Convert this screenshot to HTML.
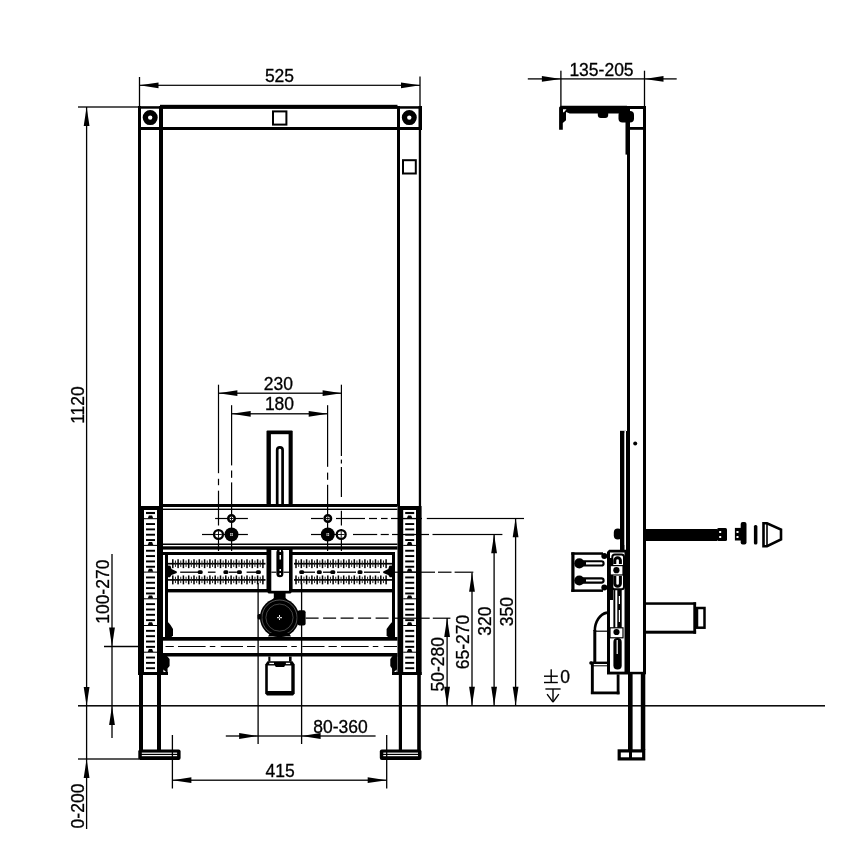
<!DOCTYPE html>
<html><head><meta charset="utf-8"><style>
html,body{margin:0;padding:0;background:#fff;}
svg{display:block;filter:grayscale(1);}
text{font-family:"Liberation Sans",sans-serif;fill:#000;stroke:#000;stroke-width:0.3px;}
</style></head><body>
<svg width="868" height="868" viewBox="0 0 868 868">
<rect x="0" y="0" width="868" height="868" fill="#fff"/>
<rect x="138.85" y="77.00" width="1.30" height="29.00" fill="#000" />
<rect x="419.35" y="76.50" width="1.30" height="29.50" fill="#000" />
<rect x="139.50" y="84.70" width="280.50" height="1.20" fill="#000" />
<polygon points="139.50,85.30 158.50,82.40 158.50,88.20" fill="#000"/>
<polygon points="420.00,85.30 401.00,82.40 401.00,88.20" fill="#000"/>
<text x="279.5" y="82.2" font-size="17.5" text-anchor="middle">525</text>
<rect x="78.00" y="106.35" width="61.00" height="1.30" fill="#000" />
<rect x="85.95" y="107.00" width="1.30" height="722.00" fill="#000" />
<polygon points="86.60,107.00 83.70,126.00 89.50,126.00" fill="#000"/>
<polygon points="86.60,706.00 83.70,687.00 89.50,687.00" fill="#000"/>
<text x="84" y="405" font-size="17.5" text-anchor="middle" transform="rotate(-90 84 405)">1120</text>
<rect x="78.00" y="758.35" width="61.00" height="1.30" fill="#000" />
<polygon points="86.60,759.00 83.70,778.00 89.50,778.00" fill="#000"/>
<text x="84.2" y="806" font-size="17.5" text-anchor="middle" transform="rotate(-90 84.2 806)">0-200</text>
<rect x="78.00" y="705.05" width="747.00" height="1.50" fill="#000" />
<rect x="111.35" y="554.00" width="1.30" height="184.00" fill="#000" />
<polygon points="112.00,646.50 109.10,627.50 114.90,627.50" fill="#000"/>
<polygon points="112.00,706.00 109.10,725.00 114.90,725.00" fill="#000"/>
<rect x="104.00" y="645.85" width="35.00" height="1.30" fill="#000" />
<text x="109" y="591.7" font-size="17.5" text-anchor="middle" transform="rotate(-90 109 591.7)">100-270</text>
<rect x="138.00" y="106.20" width="284.00" height="2.50" fill="#000" />
<rect x="160.00" y="104.80" width="237.50" height="3.90" fill="#000" />
<rect x="138.00" y="127.00" width="284.00" height="3.00" fill="#000" />
<rect x="138.00" y="106.00" width="3.00" height="400.00" fill="#000" />
<rect x="159.00" y="106.00" width="4.00" height="400.00" fill="#000" />
<rect x="397.00" y="106.00" width="3.00" height="400.00" fill="#000" />
<rect x="418.50" y="106.00" width="3.50" height="24.00" fill="#000" />
<rect x="418.80" y="130.00" width="2.30" height="376.00" fill="#000" />
<circle cx="150.2" cy="117.6" r="4.85" fill="none" stroke="#000" stroke-width="5.3"/>
<circle cx="409.3" cy="117.6" r="4.85" fill="none" stroke="#000" stroke-width="5.3"/>
<rect x="273" y="111.4" width="13.4" height="13.2" fill="none" stroke="#000" stroke-width="2"/>
<rect x="403" y="160.2" width="12.8" height="13.3" fill="none" stroke="#000" stroke-width="2"/>
<rect x="138.00" y="506.00" width="25.00" height="169.00" fill="#000" />
<rect x="144.00" y="510.00" width="13.00" height="162.00" fill="#fff" />
<rect x="144.00" y="518.20" width="13.00" height="1.00" fill="#000" />
<polygon points="148.90,515.40 152.10,515.40 153.30,518.40 147.70,518.40" fill="#000"/>
<rect x="146.00" y="523.09" width="9.00" height="1.90" fill="#000" />
<rect x="146.00" y="528.43" width="9.00" height="1.90" fill="#000" />
<rect x="146.00" y="533.77" width="9.00" height="1.90" fill="#000" />
<rect x="146.00" y="539.11" width="9.00" height="1.90" fill="#000" />
<rect x="144.00" y="544.90" width="13.00" height="1.00" fill="#000" />
<polygon points="148.90,542.10 152.10,542.10 153.30,545.10 147.70,545.10" fill="#000"/>
<rect x="146.00" y="549.79" width="9.00" height="1.90" fill="#000" />
<rect x="146.00" y="555.13" width="9.00" height="1.90" fill="#000" />
<rect x="146.00" y="560.47" width="9.00" height="1.90" fill="#000" />
<rect x="146.00" y="565.81" width="9.00" height="1.90" fill="#000" />
<rect x="144.00" y="571.60" width="13.00" height="1.00" fill="#000" />
<polygon points="148.90,568.80 152.10,568.80 153.30,571.80 147.70,571.80" fill="#000"/>
<rect x="146.00" y="576.49" width="9.00" height="1.90" fill="#000" />
<rect x="146.00" y="581.83" width="9.00" height="1.90" fill="#000" />
<rect x="146.00" y="587.17" width="9.00" height="1.90" fill="#000" />
<rect x="146.00" y="592.51" width="9.00" height="1.90" fill="#000" />
<rect x="144.00" y="598.30" width="13.00" height="1.00" fill="#000" />
<polygon points="148.90,595.50 152.10,595.50 153.30,598.50 147.70,598.50" fill="#000"/>
<rect x="146.00" y="603.19" width="9.00" height="1.90" fill="#000" />
<rect x="146.00" y="608.53" width="9.00" height="1.90" fill="#000" />
<rect x="146.00" y="613.87" width="9.00" height="1.90" fill="#000" />
<rect x="146.00" y="619.21" width="9.00" height="1.90" fill="#000" />
<rect x="144.00" y="625.00" width="13.00" height="1.00" fill="#000" />
<polygon points="148.90,622.20 152.10,622.20 153.30,625.20 147.70,625.20" fill="#000"/>
<rect x="146.00" y="629.89" width="9.00" height="1.90" fill="#000" />
<rect x="146.00" y="635.23" width="9.00" height="1.90" fill="#000" />
<rect x="146.00" y="640.57" width="9.00" height="1.90" fill="#000" />
<rect x="146.00" y="645.91" width="9.00" height="1.90" fill="#000" />
<rect x="144.00" y="651.70" width="13.00" height="1.00" fill="#000" />
<polygon points="148.90,648.90 152.10,648.90 153.30,651.90 147.70,651.90" fill="#000"/>
<rect x="146.00" y="656.59" width="9.00" height="1.90" fill="#000" />
<rect x="146.00" y="661.93" width="9.00" height="1.90" fill="#000" />
<rect x="146.00" y="667.27" width="9.00" height="1.90" fill="#000" />
<rect x="146.00" y="511.95" width="9.00" height="2.10" fill="#000" />
<rect x="138.00" y="672.00" width="30.00" height="3.00" fill="#000" />
<rect x="397.50" y="506.00" width="24.10" height="169.00" fill="#000" />
<rect x="403.20" y="510.00" width="12.80" height="162.00" fill="#fff" />
<rect x="403.20" y="518.20" width="12.80" height="1.00" fill="#000" />
<polygon points="408.00,515.40 411.20,515.40 412.40,518.40 406.80,518.40" fill="#000"/>
<rect x="405.20" y="523.09" width="9.00" height="1.90" fill="#000" />
<rect x="405.20" y="528.43" width="9.00" height="1.90" fill="#000" />
<rect x="405.20" y="533.77" width="9.00" height="1.90" fill="#000" />
<rect x="405.20" y="539.11" width="9.00" height="1.90" fill="#000" />
<rect x="403.20" y="544.90" width="12.80" height="1.00" fill="#000" />
<polygon points="408.00,542.10 411.20,542.10 412.40,545.10 406.80,545.10" fill="#000"/>
<rect x="405.20" y="549.79" width="9.00" height="1.90" fill="#000" />
<rect x="405.20" y="555.13" width="9.00" height="1.90" fill="#000" />
<rect x="405.20" y="560.47" width="9.00" height="1.90" fill="#000" />
<rect x="405.20" y="565.81" width="9.00" height="1.90" fill="#000" />
<rect x="403.20" y="571.60" width="12.80" height="1.00" fill="#000" />
<polygon points="408.00,568.80 411.20,568.80 412.40,571.80 406.80,571.80" fill="#000"/>
<rect x="405.20" y="576.49" width="9.00" height="1.90" fill="#000" />
<rect x="405.20" y="581.83" width="9.00" height="1.90" fill="#000" />
<rect x="405.20" y="587.17" width="9.00" height="1.90" fill="#000" />
<rect x="405.20" y="592.51" width="9.00" height="1.90" fill="#000" />
<rect x="403.20" y="598.30" width="12.80" height="1.00" fill="#000" />
<polygon points="408.00,595.50 411.20,595.50 412.40,598.50 406.80,598.50" fill="#000"/>
<rect x="405.20" y="603.19" width="9.00" height="1.90" fill="#000" />
<rect x="405.20" y="608.53" width="9.00" height="1.90" fill="#000" />
<rect x="405.20" y="613.87" width="9.00" height="1.90" fill="#000" />
<rect x="405.20" y="619.21" width="9.00" height="1.90" fill="#000" />
<rect x="403.20" y="625.00" width="12.80" height="1.00" fill="#000" />
<polygon points="408.00,622.20 411.20,622.20 412.40,625.20 406.80,625.20" fill="#000"/>
<rect x="405.20" y="629.89" width="9.00" height="1.90" fill="#000" />
<rect x="405.20" y="635.23" width="9.00" height="1.90" fill="#000" />
<rect x="405.20" y="640.57" width="9.00" height="1.90" fill="#000" />
<rect x="405.20" y="645.91" width="9.00" height="1.90" fill="#000" />
<rect x="403.20" y="651.70" width="12.80" height="1.00" fill="#000" />
<polygon points="408.00,648.90 411.20,648.90 412.40,651.90 406.80,651.90" fill="#000"/>
<rect x="405.20" y="656.59" width="9.00" height="1.90" fill="#000" />
<rect x="405.20" y="661.93" width="9.00" height="1.90" fill="#000" />
<rect x="405.20" y="667.27" width="9.00" height="1.90" fill="#000" />
<rect x="405.20" y="511.95" width="9.00" height="2.10" fill="#000" />
<rect x="392.00" y="672.00" width="29.60" height="3.00" fill="#000" />
<rect x="139.00" y="675.00" width="4.00" height="75.00" fill="#000" />
<rect x="157.00" y="675.00" width="4.00" height="75.00" fill="#000" />
<rect x="398.80" y="675.00" width="3.20" height="75.00" fill="#000" />
<rect x="417.20" y="675.00" width="3.60" height="75.00" fill="#000" />
<rect x="138.3" y="749.6" width="42.29999999999998" height="10.4" rx="2" fill="#000"/>
<rect x="141.80" y="752.60" width="35.30" height="1.20" fill="#fff" />
<rect x="141.80" y="755.00" width="35.30" height="1.20" fill="#fff" />
<rect x="379.8" y="749.6" width="41.69999999999999" height="10.4" rx="2" fill="#000"/>
<rect x="383.30" y="752.60" width="34.70" height="1.20" fill="#fff" />
<rect x="383.30" y="755.00" width="34.70" height="1.20" fill="#fff" />
<rect x="163.00" y="504.00" width="234.50" height="3.00" fill="#000" />
<rect x="163.00" y="508.60" width="234.50" height="1.40" fill="#000" />
<rect x="163.00" y="543.50" width="234.50" height="1.50" fill="#000" />
<rect x="163.00" y="546.30" width="234.50" height="3.30" fill="#000" />
<rect x="163.00" y="552.00" width="232.00" height="3.00" fill="#000" />
<rect x="165.00" y="552.00" width="3.00" height="85.00" fill="#000" />
<rect x="392.00" y="552.00" width="3.00" height="85.00" fill="#000" />
<rect x="165.00" y="589.00" width="230.00" height="3.40" fill="#000" />
<rect x="163.00" y="637.00" width="234.50" height="3.70" fill="#000" />
<rect x="163.00" y="653.00" width="234.50" height="3.50" fill="#000" />
<rect x="104.00" y="645.90" width="35.00" height="1.20" fill="#000" />
<line x1="165.5" y1="646.5" x2="397" y2="646.5" stroke="#000" stroke-width="1.2" stroke-dasharray="8.3 4.2 27.6 4.2 5.5 5.5 22.2 4" stroke-dashoffset="0"/>
<rect x="167.80" y="562.85" width="97.70" height="1.70" fill="#000" />
<rect x="172.05" y="559.25" width="1.50" height="8.90" fill="#000" />
<rect x="174.95" y="560.50" width="1.00" height="6.40" fill="#222" />
<rect x="177.35" y="559.25" width="1.50" height="8.90" fill="#000" />
<rect x="180.25" y="560.50" width="1.00" height="6.40" fill="#222" />
<rect x="182.65" y="559.25" width="1.50" height="8.90" fill="#000" />
<rect x="185.55" y="560.50" width="1.00" height="6.40" fill="#222" />
<rect x="187.95" y="559.25" width="1.50" height="8.90" fill="#000" />
<rect x="190.85" y="560.50" width="1.00" height="6.40" fill="#222" />
<rect x="193.25" y="559.25" width="1.50" height="8.90" fill="#000" />
<rect x="196.15" y="560.50" width="1.00" height="6.40" fill="#222" />
<rect x="198.55" y="559.25" width="1.50" height="8.90" fill="#000" />
<rect x="201.45" y="560.50" width="1.00" height="6.40" fill="#222" />
<rect x="203.85" y="559.25" width="1.50" height="8.90" fill="#000" />
<rect x="206.75" y="560.50" width="1.00" height="6.40" fill="#222" />
<rect x="209.15" y="559.25" width="1.50" height="8.90" fill="#000" />
<rect x="212.05" y="560.50" width="1.00" height="6.40" fill="#222" />
<rect x="214.45" y="559.25" width="1.50" height="8.90" fill="#000" />
<rect x="217.35" y="560.50" width="1.00" height="6.40" fill="#222" />
<rect x="219.75" y="559.25" width="1.50" height="8.90" fill="#000" />
<rect x="222.65" y="560.50" width="1.00" height="6.40" fill="#222" />
<rect x="225.05" y="559.25" width="1.50" height="8.90" fill="#000" />
<rect x="227.95" y="560.50" width="1.00" height="6.40" fill="#222" />
<rect x="230.35" y="559.25" width="1.50" height="8.90" fill="#000" />
<rect x="233.25" y="560.50" width="1.00" height="6.40" fill="#222" />
<rect x="235.65" y="559.25" width="1.50" height="8.90" fill="#000" />
<rect x="238.55" y="560.50" width="1.00" height="6.40" fill="#222" />
<rect x="240.95" y="559.25" width="1.50" height="8.90" fill="#000" />
<rect x="243.85" y="560.50" width="1.00" height="6.40" fill="#222" />
<rect x="246.25" y="559.25" width="1.50" height="8.90" fill="#000" />
<rect x="249.15" y="560.50" width="1.00" height="6.40" fill="#222" />
<rect x="251.55" y="559.25" width="1.50" height="8.90" fill="#000" />
<rect x="254.45" y="560.50" width="1.00" height="6.40" fill="#222" />
<rect x="256.85" y="559.25" width="1.50" height="8.90" fill="#000" />
<rect x="259.75" y="560.50" width="1.00" height="6.40" fill="#222" />
<rect x="262.15" y="559.25" width="1.50" height="8.90" fill="#000" />
<rect x="294.00" y="562.85" width="98.00" height="1.70" fill="#000" />
<rect x="295.25" y="559.25" width="1.50" height="8.90" fill="#000" />
<rect x="298.15" y="560.50" width="1.00" height="6.40" fill="#222" />
<rect x="300.55" y="559.25" width="1.50" height="8.90" fill="#000" />
<rect x="303.45" y="560.50" width="1.00" height="6.40" fill="#222" />
<rect x="305.85" y="559.25" width="1.50" height="8.90" fill="#000" />
<rect x="308.75" y="560.50" width="1.00" height="6.40" fill="#222" />
<rect x="311.15" y="559.25" width="1.50" height="8.90" fill="#000" />
<rect x="314.05" y="560.50" width="1.00" height="6.40" fill="#222" />
<rect x="316.45" y="559.25" width="1.50" height="8.90" fill="#000" />
<rect x="319.35" y="560.50" width="1.00" height="6.40" fill="#222" />
<rect x="321.75" y="559.25" width="1.50" height="8.90" fill="#000" />
<rect x="324.65" y="560.50" width="1.00" height="6.40" fill="#222" />
<rect x="327.05" y="559.25" width="1.50" height="8.90" fill="#000" />
<rect x="329.95" y="560.50" width="1.00" height="6.40" fill="#222" />
<rect x="332.35" y="559.25" width="1.50" height="8.90" fill="#000" />
<rect x="335.25" y="560.50" width="1.00" height="6.40" fill="#222" />
<rect x="337.65" y="559.25" width="1.50" height="8.90" fill="#000" />
<rect x="340.55" y="560.50" width="1.00" height="6.40" fill="#222" />
<rect x="342.95" y="559.25" width="1.50" height="8.90" fill="#000" />
<rect x="345.85" y="560.50" width="1.00" height="6.40" fill="#222" />
<rect x="348.25" y="559.25" width="1.50" height="8.90" fill="#000" />
<rect x="351.15" y="560.50" width="1.00" height="6.40" fill="#222" />
<rect x="353.55" y="559.25" width="1.50" height="8.90" fill="#000" />
<rect x="356.45" y="560.50" width="1.00" height="6.40" fill="#222" />
<rect x="358.85" y="559.25" width="1.50" height="8.90" fill="#000" />
<rect x="361.75" y="560.50" width="1.00" height="6.40" fill="#222" />
<rect x="364.15" y="559.25" width="1.50" height="8.90" fill="#000" />
<rect x="367.05" y="560.50" width="1.00" height="6.40" fill="#222" />
<rect x="369.45" y="559.25" width="1.50" height="8.90" fill="#000" />
<rect x="372.35" y="560.50" width="1.00" height="6.40" fill="#222" />
<rect x="374.75" y="559.25" width="1.50" height="8.90" fill="#000" />
<rect x="377.65" y="560.50" width="1.00" height="6.40" fill="#222" />
<rect x="380.05" y="559.25" width="1.50" height="8.90" fill="#000" />
<rect x="382.95" y="560.50" width="1.00" height="6.40" fill="#222" />
<rect x="385.35" y="559.25" width="1.50" height="8.90" fill="#000" />
<rect x="167.80" y="579.05" width="97.70" height="1.70" fill="#000" />
<rect x="172.05" y="575.45" width="1.50" height="8.90" fill="#000" />
<rect x="174.95" y="576.70" width="1.00" height="6.40" fill="#222" />
<rect x="177.35" y="575.45" width="1.50" height="8.90" fill="#000" />
<rect x="180.25" y="576.70" width="1.00" height="6.40" fill="#222" />
<rect x="182.65" y="575.45" width="1.50" height="8.90" fill="#000" />
<rect x="185.55" y="576.70" width="1.00" height="6.40" fill="#222" />
<rect x="187.95" y="575.45" width="1.50" height="8.90" fill="#000" />
<rect x="190.85" y="576.70" width="1.00" height="6.40" fill="#222" />
<rect x="193.25" y="575.45" width="1.50" height="8.90" fill="#000" />
<rect x="196.15" y="576.70" width="1.00" height="6.40" fill="#222" />
<rect x="198.55" y="575.45" width="1.50" height="8.90" fill="#000" />
<rect x="201.45" y="576.70" width="1.00" height="6.40" fill="#222" />
<rect x="203.85" y="575.45" width="1.50" height="8.90" fill="#000" />
<rect x="206.75" y="576.70" width="1.00" height="6.40" fill="#222" />
<rect x="209.15" y="575.45" width="1.50" height="8.90" fill="#000" />
<rect x="212.05" y="576.70" width="1.00" height="6.40" fill="#222" />
<rect x="214.45" y="575.45" width="1.50" height="8.90" fill="#000" />
<rect x="217.35" y="576.70" width="1.00" height="6.40" fill="#222" />
<rect x="219.75" y="575.45" width="1.50" height="8.90" fill="#000" />
<rect x="222.65" y="576.70" width="1.00" height="6.40" fill="#222" />
<rect x="225.05" y="575.45" width="1.50" height="8.90" fill="#000" />
<rect x="227.95" y="576.70" width="1.00" height="6.40" fill="#222" />
<rect x="230.35" y="575.45" width="1.50" height="8.90" fill="#000" />
<rect x="233.25" y="576.70" width="1.00" height="6.40" fill="#222" />
<rect x="235.65" y="575.45" width="1.50" height="8.90" fill="#000" />
<rect x="238.55" y="576.70" width="1.00" height="6.40" fill="#222" />
<rect x="240.95" y="575.45" width="1.50" height="8.90" fill="#000" />
<rect x="243.85" y="576.70" width="1.00" height="6.40" fill="#222" />
<rect x="246.25" y="575.45" width="1.50" height="8.90" fill="#000" />
<rect x="249.15" y="576.70" width="1.00" height="6.40" fill="#222" />
<rect x="251.55" y="575.45" width="1.50" height="8.90" fill="#000" />
<rect x="254.45" y="576.70" width="1.00" height="6.40" fill="#222" />
<rect x="256.85" y="575.45" width="1.50" height="8.90" fill="#000" />
<rect x="259.75" y="576.70" width="1.00" height="6.40" fill="#222" />
<rect x="262.15" y="575.45" width="1.50" height="8.90" fill="#000" />
<rect x="294.00" y="579.05" width="98.00" height="1.70" fill="#000" />
<rect x="295.25" y="575.45" width="1.50" height="8.90" fill="#000" />
<rect x="298.15" y="576.70" width="1.00" height="6.40" fill="#222" />
<rect x="300.55" y="575.45" width="1.50" height="8.90" fill="#000" />
<rect x="303.45" y="576.70" width="1.00" height="6.40" fill="#222" />
<rect x="305.85" y="575.45" width="1.50" height="8.90" fill="#000" />
<rect x="308.75" y="576.70" width="1.00" height="6.40" fill="#222" />
<rect x="311.15" y="575.45" width="1.50" height="8.90" fill="#000" />
<rect x="314.05" y="576.70" width="1.00" height="6.40" fill="#222" />
<rect x="316.45" y="575.45" width="1.50" height="8.90" fill="#000" />
<rect x="319.35" y="576.70" width="1.00" height="6.40" fill="#222" />
<rect x="321.75" y="575.45" width="1.50" height="8.90" fill="#000" />
<rect x="324.65" y="576.70" width="1.00" height="6.40" fill="#222" />
<rect x="327.05" y="575.45" width="1.50" height="8.90" fill="#000" />
<rect x="329.95" y="576.70" width="1.00" height="6.40" fill="#222" />
<rect x="332.35" y="575.45" width="1.50" height="8.90" fill="#000" />
<rect x="335.25" y="576.70" width="1.00" height="6.40" fill="#222" />
<rect x="337.65" y="575.45" width="1.50" height="8.90" fill="#000" />
<rect x="340.55" y="576.70" width="1.00" height="6.40" fill="#222" />
<rect x="342.95" y="575.45" width="1.50" height="8.90" fill="#000" />
<rect x="345.85" y="576.70" width="1.00" height="6.40" fill="#222" />
<rect x="348.25" y="575.45" width="1.50" height="8.90" fill="#000" />
<rect x="351.15" y="576.70" width="1.00" height="6.40" fill="#222" />
<rect x="353.55" y="575.45" width="1.50" height="8.90" fill="#000" />
<rect x="356.45" y="576.70" width="1.00" height="6.40" fill="#222" />
<rect x="358.85" y="575.45" width="1.50" height="8.90" fill="#000" />
<rect x="361.75" y="576.70" width="1.00" height="6.40" fill="#222" />
<rect x="364.15" y="575.45" width="1.50" height="8.90" fill="#000" />
<rect x="367.05" y="576.70" width="1.00" height="6.40" fill="#222" />
<rect x="369.45" y="575.45" width="1.50" height="8.90" fill="#000" />
<rect x="372.35" y="576.70" width="1.00" height="6.40" fill="#222" />
<rect x="374.75" y="575.45" width="1.50" height="8.90" fill="#000" />
<rect x="377.65" y="576.70" width="1.00" height="6.40" fill="#222" />
<rect x="380.05" y="575.45" width="1.50" height="8.90" fill="#000" />
<rect x="382.95" y="576.70" width="1.00" height="6.40" fill="#222" />
<rect x="385.35" y="575.45" width="1.50" height="8.90" fill="#000" />
<rect x="180.20" y="571.55" width="18.00" height="1.30" fill="#000" />
<rect x="207.90" y="571.55" width="7.60" height="1.30" fill="#000" />
<rect x="229.00" y="571.55" width="7.90" height="1.30" fill="#000" />
<rect x="246.60" y="571.55" width="9.60" height="1.30" fill="#000" />
<rect x="300.00" y="571.55" width="15.00" height="1.30" fill="#000" />
<rect x="323.00" y="571.55" width="9.00" height="1.30" fill="#000" />
<rect x="337.00" y="571.55" width="19.00" height="1.30" fill="#000" />
<rect x="364.00" y="571.55" width="16.00" height="1.30" fill="#000" />
<rect x="197.7" y="570.3000000000001" width="5" height="3.8" rx="1.5" fill="#000"/>
<rect x="223.4" y="570.3000000000001" width="5" height="3.8" rx="1.5" fill="#000"/>
<rect x="236.9" y="570.3000000000001" width="5" height="3.8" rx="1.5" fill="#000"/>
<rect x="255.89999999999998" y="570.3000000000001" width="5" height="3.8" rx="1.5" fill="#000"/>
<rect x="299.2" y="570.3000000000001" width="5" height="3.8" rx="1.5" fill="#000"/>
<rect x="316.8" y="570.3000000000001" width="5" height="3.8" rx="1.5" fill="#000"/>
<rect x="330.3" y="570.3000000000001" width="5" height="3.8" rx="1.5" fill="#000"/>
<rect x="357.5" y="570.3000000000001" width="5" height="3.8" rx="1.5" fill="#000"/>
<polygon points="167.80,565.50 170.50,565.80 171.50,569.00 176.80,571.60 176.80,573.00 171.50,575.00 170.00,577.20 167.80,577.20" fill="#000"/>
<polygon points="392.00,565.50 389.30,565.80 388.30,569.00 383.20,571.60 383.20,573.00 388.30,575.00 389.80,577.20 392.00,577.20" fill="#000"/>
<polygon points="266.50,549.00 292.60,549.00 292.60,591.00 290.50,593.50 268.50,593.50 266.50,591.00" fill="#000"/>
<rect x="271.30" y="550.00" width="17.70" height="40.80" fill="#fff" />
<rect x="276.4" y="549" width="7" height="28.2" rx="3.5" fill="#000"/>
<rect x="279.50" y="550.00" width="1.50" height="2.00" fill="#fff" />
<rect x="279.50" y="555.00" width="1.50" height="4.50" fill="#fff" />
<rect x="279.50" y="569.00" width="1.50" height="2.00" fill="#fff" />
<rect x="279.50" y="573.00" width="1.50" height="2.00" fill="#fff" />
<rect x="271.30" y="571.60" width="5.10" height="1.20" fill="#000" />
<rect x="283.40" y="571.60" width="5.60" height="1.20" fill="#000" />
<polygon points="273.80,593.00 285.60,593.00 285.60,598.00 287.50,600.00 272.00,600.00 273.80,598.00" fill="#000"/>
<circle cx="279.5" cy="617.6" r="19.6" fill="#000" stroke="none" stroke-width="0"/>
<circle cx="279.5" cy="617.6" r="17.6" fill="none" stroke="#aaa" stroke-width="0.5"/>
<circle cx="279.5" cy="617.6" r="13.6" fill="none" stroke="#888" stroke-width="0.5"/>
<rect x="279.00" y="615.00" width="1.00" height="5.00" fill="#fff" />
<rect x="277.00" y="617.20" width="5.00" height="1.00" fill="#fff" />
<rect x="279.20" y="616.90" width="0.70" height="1.60" fill="#000" />
<rect x="297.6" y="610.3" width="8" height="15.2" rx="2" fill="#000"/>
<rect x="257.5" y="614" width="4" height="5.6" rx="1.5" fill="#000"/>
<polygon points="268.00,636.50 291.00,636.50 289.00,633.00 270.00,633.00" fill="#000"/>
<rect x="266.5" y="430.4" width="26.2" height="74" rx="1" fill="#000"/>
<rect x="270.90" y="434.20" width="17.70" height="69.80" fill="#fff" />
<path d="M277.2,504 V450 A2.7,2.7 0 0 1 282.6,450 V504" fill="none" stroke="#000" stroke-width="2.7" />
<polygon points="165.00,622.00 168.50,622.50 170.50,625.00 173.00,629.00 173.00,635.50 171.00,637.50 165.00,637.50" fill="#000"/>
<polygon points="162.90,656.00 167.00,656.00 169.60,659.00 169.60,666.00 167.50,668.50 167.70,674.50 162.90,674.50" fill="#000"/>
<polygon points="163.40,669.50 166.00,672.00 163.40,672.00" fill="#fff"/>
<polygon points="395.00,622.00 391.50,622.50 389.50,625.00 386.60,629.00 386.60,635.50 388.50,637.50 395.00,637.50" fill="#000"/>
<polygon points="397.20,656.00 392.50,656.00 390.30,659.00 390.30,666.00 392.00,668.50 392.20,674.50 397.20,674.50" fill="#000"/>
<polygon points="396.60,669.50 394.00,672.00 396.60,672.00" fill="#fff"/>
<polygon points="265.20,664.40 267.50,661.30 292.50,661.30 294.70,664.40 294.70,693.50 293.00,695.50 267.00,695.50 265.20,693.50" fill="#000"/>
<rect x="267.80" y="665.50" width="23.50" height="25.50" fill="#fff" />
<polygon points="275.00,665.00 284.90,665.00 284.90,666.00 284.00,667.00 276.00,667.00 275.00,666.00" fill="#000"/>
<rect x="269.30" y="662.80" width="4.70" height="1.30" fill="#fff" />
<rect x="285.90" y="662.80" width="4.20" height="1.30" fill="#fff" />
<rect x="268.30" y="656.50" width="2.10" height="5.00" fill="#000" />
<rect x="289.00" y="656.50" width="2.60" height="5.00" fill="#000" />
<rect x="217.90" y="384.70" width="1.20" height="88.50" fill="#000" />
<rect x="217.90" y="478.80" width="1.20" height="6.40" fill="#000" />
<rect x="217.90" y="490.70" width="1.20" height="34.80" fill="#000" />
<rect x="217.90" y="529.00" width="1.20" height="22.00" fill="#000" />
<rect x="231.00" y="405.20" width="1.20" height="60.20" fill="#000" />
<rect x="231.00" y="470.50" width="1.20" height="7.30" fill="#000" />
<rect x="231.00" y="482.40" width="1.20" height="68.60" fill="#000" />
<rect x="327.00" y="405.20" width="1.20" height="61.60" fill="#000" />
<rect x="327.00" y="472.60" width="1.20" height="7.20" fill="#000" />
<rect x="327.00" y="484.80" width="1.20" height="66.20" fill="#000" />
<rect x="340.80" y="384.70" width="1.20" height="71.30" fill="#000" />
<rect x="340.80" y="459.60" width="1.20" height="3.90" fill="#000" />
<rect x="340.80" y="467.00" width="1.20" height="30.00" fill="#000" />
<rect x="340.80" y="510.80" width="1.20" height="14.70" fill="#000" />
<rect x="340.80" y="529.00" width="1.20" height="22.00" fill="#000" />
<rect x="215.10" y="517.90" width="32.80" height="1.20" fill="#000" />
<rect x="202.00" y="533.90" width="45.90" height="1.20" fill="#000" />
<rect x="311.00" y="517.90" width="12.00" height="1.20" fill="#000" />
<rect x="336.00" y="517.90" width="29.00" height="1.20" fill="#000" />
<rect x="369.00" y="517.90" width="8.00" height="1.20" fill="#000" />
<rect x="381.00" y="517.90" width="6.60" height="1.20" fill="#000" />
<rect x="391.00" y="517.90" width="31.00" height="1.20" fill="#000" />
<rect x="426.80" y="517.90" width="97.20" height="1.20" fill="#000" />
<rect x="311.00" y="533.90" width="35.00" height="1.20" fill="#000" />
<rect x="353.00" y="533.90" width="24.20" height="1.20" fill="#000" />
<rect x="380.70" y="533.90" width="8.10" height="1.20" fill="#000" />
<rect x="392.00" y="533.90" width="37.00" height="1.20" fill="#000" />
<rect x="432.50" y="533.90" width="69.90" height="1.20" fill="#000" />
<rect x="392.00" y="571.60" width="43.00" height="1.20" fill="#000" />
<rect x="438.00" y="571.60" width="13.50" height="1.20" fill="#000" />
<rect x="454.60" y="571.60" width="18.70" height="1.20" fill="#000" />
<line x1="305.6" y1="618.2" x2="392" y2="618.2" stroke="#000" stroke-width="1.2" stroke-dasharray="13 4.5" stroke-dashoffset="0"/>
<rect x="392.00" y="617.60" width="37.70" height="1.20" fill="#000" />
<rect x="432.80" y="617.60" width="17.60" height="1.20" fill="#000" />
<circle cx="231.5" cy="518.5" r="3.25" fill="#fff" stroke="#000" stroke-width="2.5"/>
<rect x="229.50" y="518.05" width="4.00" height="0.90" fill="#000" />
<rect x="231.05" y="516.50" width="0.90" height="4.00" fill="#000" />
<circle cx="218.5" cy="534.5" r="4.449999999999999" fill="#fff" stroke="#000" stroke-width="2.3"/>
<rect x="215.20" y="534.05" width="6.60" height="0.90" fill="#000" />
<rect x="218.05" y="531.20" width="0.90" height="6.60" fill="#000" />
<circle cx="231.5" cy="534.5" r="7.0" fill="#000" stroke="none" stroke-width="0"/>
<rect x="230.20" y="533.20" width="2.60" height="2.60" fill="#fff" />
<rect x="230.20" y="534.25" width="2.60" height="0.50" fill="#000" />
<rect x="231.25" y="533.20" width="0.50" height="2.60" fill="#000" />
<circle cx="327.8" cy="518.5" r="3.25" fill="#fff" stroke="#000" stroke-width="2.5"/>
<rect x="325.80" y="518.05" width="4.00" height="0.90" fill="#000" />
<rect x="327.35" y="516.50" width="0.90" height="4.00" fill="#000" />
<circle cx="341.2" cy="534.5" r="4.449999999999999" fill="#fff" stroke="#000" stroke-width="2.3"/>
<rect x="337.90" y="534.05" width="6.60" height="0.90" fill="#000" />
<rect x="340.75" y="531.20" width="0.90" height="6.60" fill="#000" />
<circle cx="327.8" cy="534.5" r="7.0" fill="#000" stroke="none" stroke-width="0"/>
<rect x="326.50" y="533.20" width="2.60" height="2.60" fill="#fff" />
<rect x="326.50" y="534.25" width="2.60" height="0.50" fill="#000" />
<rect x="327.55" y="533.20" width="0.50" height="2.60" fill="#000" />
<rect x="218.40" y="392.55" width="123.20" height="1.30" fill="#000" />
<polygon points="218.40,393.20 237.40,390.30 237.40,396.10" fill="#000"/>
<polygon points="341.60,393.20 322.60,390.30 322.60,396.10" fill="#000"/>
<text x="278.4" y="389.9" font-size="17.5" text-anchor="middle">230</text>
<rect x="231.70" y="413.15" width="96.00" height="1.30" fill="#000" />
<polygon points="231.70,413.80 250.70,410.90 250.70,416.70" fill="#000"/>
<polygon points="327.70,413.80 308.70,410.90 308.70,416.70" fill="#000"/>
<text x="279.5" y="409.8" font-size="17.5" text-anchor="middle">180</text>
<rect x="257.45" y="583.00" width="1.30" height="161.00" fill="#000" />
<rect x="300.95" y="583.00" width="1.30" height="161.00" fill="#000" />
<rect x="225.80" y="735.35" width="149.80" height="1.30" fill="#000" />
<polygon points="258.10,736.00 239.10,733.10 239.10,738.90" fill="#000"/>
<polygon points="301.60,736.00 320.60,733.10 320.60,738.90" fill="#000"/>
<text x="340.5" y="733.2" font-size="17.5" text-anchor="middle">80-360</text>
<rect x="171.75" y="735.00" width="1.30" height="53.50" fill="#000" />
<rect x="386.05" y="735.00" width="1.30" height="53.50" fill="#000" />
<rect x="172.40" y="779.55" width="214.30" height="1.30" fill="#000" />
<polygon points="172.40,780.20 191.40,777.30 191.40,783.10" fill="#000"/>
<polygon points="386.70,780.20 367.70,777.30 367.70,783.10" fill="#000"/>
<text x="280.2" y="776.9" font-size="17.5" text-anchor="middle">415</text>
<rect x="514.95" y="518.30" width="1.30" height="187.50" fill="#000" />
<polygon points="515.60,518.30 512.70,537.30 518.50,537.30" fill="#000"/>
<polygon points="515.60,705.80 512.70,686.80 518.50,686.80" fill="#000"/>
<text x="512.6" y="611.6" font-size="17.5" text-anchor="middle" transform="rotate(-90 512.6 611.6)">350</text>
<rect x="493.45" y="534.20" width="1.30" height="171.60" fill="#000" />
<polygon points="494.10,534.20 491.20,553.20 497.00,553.20" fill="#000"/>
<polygon points="494.10,705.80 491.20,686.80 497.00,686.80" fill="#000"/>
<text x="491.1" y="621.1" font-size="17.5" text-anchor="middle" transform="rotate(-90 491.1 621.1)">320</text>
<rect x="471.35" y="572.80" width="1.30" height="133.00" fill="#000" />
<polygon points="472.00,572.80 469.10,591.80 474.90,591.80" fill="#000"/>
<polygon points="472.00,705.80 469.10,686.80 474.90,686.80" fill="#000"/>
<text x="469" y="642" font-size="17.5" text-anchor="middle" transform="rotate(-90 469 642)">65-270</text>
<rect x="446.45" y="618.00" width="1.30" height="87.80" fill="#000" />
<polygon points="447.10,618.00 444.20,637.00 450.00,637.00" fill="#000"/>
<polygon points="447.10,705.80 444.20,686.80 450.00,686.80" fill="#000"/>
<text x="444.1" y="664.3" font-size="17.5" text-anchor="middle" transform="rotate(-90 444.1 664.3)">50-280</text>
<rect x="560.25" y="70.70" width="1.30" height="35.30" fill="#000" />
<rect x="643.85" y="70.70" width="1.30" height="35.30" fill="#000" />
<rect x="527.80" y="78.25" width="148.90" height="1.30" fill="#000" />
<polygon points="560.90,78.90 541.90,76.00 541.90,81.80" fill="#000"/>
<polygon points="644.50,78.90 663.50,76.00 663.50,81.80" fill="#000"/>
<text x="601.5" y="75.6" font-size="17.5" text-anchor="middle">135-205</text>
<polygon points="559.10,107.50 560.50,105.80 627.00,105.80 627.00,113.60 569.70,113.60 566.00,112.00 566.00,120.30 562.80,123.00 562.80,129.70 559.10,129.70" fill="#000"/>
<polygon points="563.00,109.30 566.50,109.30 564.00,112.30 563.00,112.30" fill="#fff"/>
<rect x="597.8" y="110" width="10.4" height="8" rx="3" fill="#000"/>
<rect x="618.5" y="111" width="15.5" height="11.6" rx="4" fill="#000"/>
<rect x="626.00" y="106.00" width="19.60" height="3.00" fill="#000" />
<rect x="626.00" y="127.00" width="19.60" height="2.80" fill="#000" />
<rect x="627.00" y="106.00" width="3.00" height="568.00" fill="#000" />
<rect x="643.00" y="106.00" width="3.00" height="568.00" fill="#000" />
<rect x="625.50" y="113.00" width="4.50" height="41.60" fill="#000" />
<rect x="620.00" y="430.80" width="4.50" height="119.20" fill="#000" />
<rect x="624.50" y="430.80" width="1.50" height="2.20" fill="#000" />
<circle cx="635.2" cy="443.5" r="2" fill="#000" stroke="none" stroke-width="0"/>
<rect x="646.00" y="529.00" width="71.00" height="12.00" fill="#000" />
<rect x="613.8" y="528.6" width="8" height="11" rx="4" fill="#000"/>
<rect x="717" y="527.9" width="10" height="13.2" rx="1.5" fill="#000"/>
<rect x="719.20" y="531.00" width="2.00" height="2.00" fill="#fff" />
<rect x="719.20" y="536.00" width="2.00" height="2.00" fill="#fff" />
<rect x="734.90" y="527.90" width="6.10" height="12.60" fill="#000" />
<rect x="736.50" y="531.00" width="2.00" height="2.00" fill="#fff" />
<rect x="736.50" y="536.00" width="2.00" height="2.00" fill="#fff" />
<rect x="740.7" y="522.1" width="5.8" height="22.5" rx="2" fill="#000"/>
<rect x="753.9" y="525" width="3.5" height="19.6" rx="1.5" fill="#000"/>
<path d="M763.5,523.3 L767,523.3 L781,529.5 L781,539.5 L767,546.2 L763.5,546.2 Z" fill="none" stroke="#000" stroke-width="2.6" />
<rect x="766.20" y="523.30" width="1.60" height="22.90" fill="#000" />
<rect x="571.30" y="552.30" width="31.70" height="2.50" fill="#000" />
<rect x="571.30" y="589.40" width="31.70" height="2.50" fill="#000" />
<rect x="571.30" y="552.30" width="3.20" height="39.60" fill="#000" />
<rect x="580" y="561.3" width="23.6" height="4.2" rx="2.1" fill="#fff" stroke="#000" stroke-width="2.1"/>
<circle cx="579.3" cy="563.4" r="5.1" fill="#000" stroke="none" stroke-width="0"/>
<rect x="579.30" y="560.90" width="6.70" height="5.00" fill="#000" />
<rect x="580" y="578.4" width="23.6" height="4.2" rx="2.1" fill="#fff" stroke="#000" stroke-width="2.1"/>
<circle cx="579.3" cy="580.5" r="5.1" fill="#000" stroke="none" stroke-width="0"/>
<rect x="579.30" y="578.00" width="6.70" height="5.00" fill="#000" />
<circle cx="604.3" cy="556.1" r="3" fill="#000" stroke="none" stroke-width="0"/>
<circle cx="604.3" cy="587.5" r="3" fill="#000" stroke="none" stroke-width="0"/>
<polygon points="609.10,549.70 630.00,549.70 630.00,674.30 607.00,674.30 607.00,552.00" fill="#000"/>
<rect x="610.00" y="552.50" width="14.50" height="119.30" fill="#fff" />
<rect x="607.00" y="671.80" width="39.00" height="2.50" fill="#000" />
<rect x="612.3" y="554.5" width="11.7" height="34.7" rx="2.5" fill="none" stroke="#000" stroke-width="2"/>
<path d="M614.8,564 V560.5 A2.8,2.8 0 0 1 620.4,560.5 V564" fill="none" stroke="#000" stroke-width="3" />
<path d="M614.8,576 V583.5 A2.8,2.8 0 0 0 620.4,583.5 V576" fill="none" stroke="#000" stroke-width="3" />
<rect x="609.50" y="558.00" width="3.50" height="42.00" fill="#000" />
<rect x="610.2" y="565.6" width="12.8" height="9.4" fill="#fff" stroke="#000" stroke-width="1.2"/>
<circle cx="616.4" cy="570.2" r="3.1" fill="#000" stroke="none" stroke-width="0"/>
<rect x="613.40" y="589.00" width="1.90" height="39.00" fill="#000" />
<rect x="617.30" y="589.00" width="4.40" height="39.00" fill="#000" />
<rect x="618.80" y="596.00" width="1.20" height="8.00" fill="#fff" />
<rect x="618.80" y="610.00" width="1.20" height="12.00" fill="#fff" />
<rect x="610" y="627.8" width="13" height="10" fill="#fff" stroke="#000" stroke-width="1.2"/>
<circle cx="616.5" cy="632" r="3.1" fill="#000" stroke="none" stroke-width="0"/>
<rect x="613.4" y="638" width="8.3" height="31.4" rx="4" fill="#000"/>
<rect x="616.60" y="640.00" width="1.20" height="14.00" fill="#fff" />
<rect x="626.00" y="431.00" width="1.50" height="119.00" fill="#000" />
<rect x="624.60" y="431.00" width="1.40" height="114.00" fill="#fff" />
<rect x="646.00" y="602.30" width="50.10" height="2.50" fill="#000" />
<rect x="646.00" y="630.70" width="50.10" height="3.00" fill="#000" />
<rect x="693.30" y="602.30" width="2.80" height="31.40" fill="#000" />
<rect x="697" y="608" width="7.5" height="19.7" fill="none" stroke="#000" stroke-width="2.5"/>
<path d="M594.8,631 A14,18.5 0 0 1 607,612.6" fill="none" stroke="#000" stroke-width="2.6" />
<rect x="593.30" y="630.00" width="3.00" height="33.50" fill="#000" />
<rect x="594.00" y="630.60" width="13.00" height="1.20" fill="#000" />
<rect x="590.40" y="661.60" width="16.60" height="2.40" fill="#000" />
<rect x="593.00" y="665.30" width="14.00" height="1.00" fill="#000" />
<circle cx="591" cy="663" r="1.8" fill="#000" stroke="none" stroke-width="0"/>
<rect x="590.90" y="663.00" width="2.90" height="31.00" fill="#000" />
<rect x="590.90" y="691.50" width="28.60" height="2.80" fill="#000" />
<rect x="616.70" y="674.30" width="2.80" height="20.00" fill="#000" />
<rect x="628.00" y="674.00" width="4.60" height="76.00" fill="#000" />
<rect x="640.80" y="674.00" width="4.50" height="76.00" fill="#000" />
<rect x="619.2" y="750.9" width="24.5" height="8" fill="none" stroke="#000" stroke-width="3.2"/>
<rect x="629.00" y="750.50" width="3.00" height="8.80" fill="#000" />
<rect x="550.50" y="669.30" width="1.40" height="13.20" fill="#000" />
<rect x="544.00" y="675.50" width="13.80" height="1.40" fill="#000" />
<rect x="544.00" y="681.80" width="13.80" height="1.40" fill="#000" />
<text x="560.2" y="682.8" font-size="17.5" text-anchor="start">0</text>
<rect x="545.40" y="688.30" width="15.20" height="1.40" fill="#000" />
<rect x="552.30" y="689.00" width="1.40" height="13.00" fill="#000" />
<line x1="547.1" y1="694.2" x2="553" y2="702.2" stroke="#000" stroke-width="1.4" stroke-linecap="butt"/>
<line x1="558.8" y1="694.2" x2="553" y2="702.2" stroke="#000" stroke-width="1.4" stroke-linecap="butt"/>
</svg></body></html>
